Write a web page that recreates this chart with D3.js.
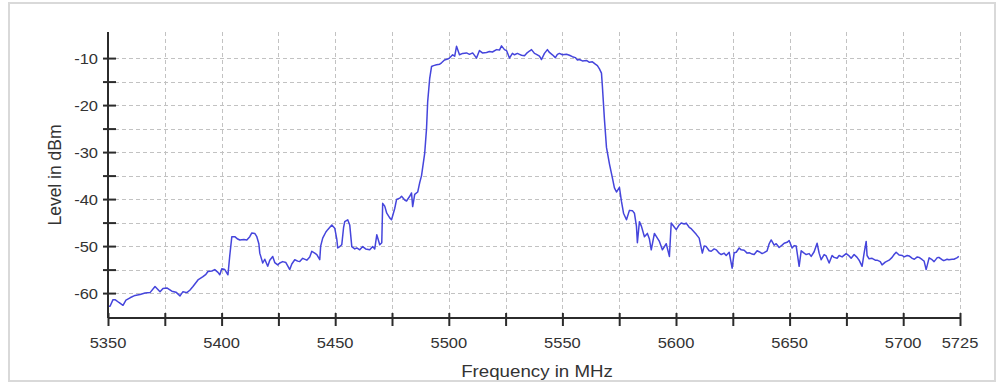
<!DOCTYPE html>
<html>
<head>
<meta charset="utf-8">
<script src="https://cdn.jsdelivr.net/npm/d3@7"></script>
<style>
  html, body { margin: 0; padding: 0; background: #fff; }
  svg { display: block; }
</style>
</head>
<body>
<svg id="chart" width="997" height="383"></svg>
<script>
// Measured spectrum: frequency (MHz) and level (dBm)
const freqMHz = [
  5350.0,5350.9,5352.2,5353.1,5354.8,5356.6,5357.9,5359.7,5361.9,5364.1,
  5366.3,5368.5,5370.7,5372.9,5374.2,5375.9,5378.1,5379.9,5381.7,5383.0,
  5384.7,5386.0,5387.4,5389.6,5391.8,5393.1,5394.0,5395.7,5397.0,5398.4,
  5399.2,5400.1,5401.4,5402.8,5403.6,5404.5,5405.8,5407.1,5408.0,5409.8,
  5411.1,5412.4,5413.3,5414.6,5415.5,5416.4,5416.8,5418.1,5419.0,5420.3,
  5421.2,5422.5,5423.4,5424.7,5425.6,5426.9,5428.3,5430.0,5430.9,5432.2,
  5433.5,5434.4,5435.7,5437.5,5438.8,5439.7,5441.0,5441.9,5443.2,5443.6,
  5444.5,5445.9,5446.7,5448.5,5449.8,5450.7,5451.1,5452.0,5452.9,5453.7,
  5454.2,5455.5,5456.4,5457.3,5458.6,5459.5,5460.8,5462.1,5463.4,5465.2,
  5466.5,5467.4,5468.3,5469.6,5470.5,5470.9,5471.8,5472.7,5474.0,5474.8,
  5476.2,5477.0,5478.4,5479.2,5480.6,5481.4,5482.8,5483.6,5484.1,5485.0,
  5486.3,5487.2,5488.0,5489.4,5490.2,5490.7,5491.6,5492.4,5493.3,5494.6,
  5496.0,5496.8,5498.1,5499.5,5500.3,5501.7,5502.6,5503.4,5504.7,5506.1,
  5507.8,5509.1,5510.5,5512.2,5513.5,5514.8,5516.6,5517.9,5519.2,5521.0,
  5522.3,5523.2,5524.5,5525.4,5526.7,5528.0,5528.9,5530.2,5531.1,5532.0,
  5533.3,5534.2,5535.5,5536.4,5537.7,5538.6,5539.9,5540.8,5542.1,5543.4,
  5544.3,5545.6,5546.9,5547.8,5548.7,5550.0,5551.8,5553.1,5554.4,5555.7,
  5556.6,5557.5,5558.8,5560.6,5561.9,5563.2,5564.5,5565.4,5566.3,5567.2,
  5567.6,5568.5,5569.4,5570.7,5572.0,5572.9,5573.8,5575.1,5576.0,5576.9,
  5578.2,5579.5,5580.9,5581.7,5582.6,5583.0,5583.9,5584.8,5586.1,5587.4,
  5588.3,5589.1,5590.5,5591.8,5592.7,5594.0,5595.7,5597.1,5597.9,5599.3,
  5600.1,5601.4,5602.3,5603.6,5604.5,5605.8,5606.7,5608.0,5608.9,5610.2,
  5611.6,5612.4,5613.3,5614.6,5615.5,5616.8,5617.7,5619.0,5619.9,5621.2,
  5622.1,5623.4,5624.7,5625.6,5626.5,5627.8,5628.7,5630.0,5631.3,5632.2,
  5633.5,5634.4,5635.7,5636.6,5637.9,5638.8,5640.1,5641.0,5641.9,5643.2,
  5644.1,5645.4,5646.7,5647.6,5648.9,5649.8,5651.1,5652.0,5652.9,5654.2,
  5655.1,5656.4,5657.3,5658.6,5659.5,5660.8,5662.1,5663.0,5663.9,5665.2,
  5666.1,5667.4,5668.7,5669.6,5670.9,5671.8,5673.1,5674.9,5676.2,5677.1,
  5678.4,5679.7,5680.6,5681.9,5682.8,5683.7,5684.1,5685.0,5686.3,5687.7,
  5688.5,5689.9,5690.7,5692.1,5693.8,5695.1,5696.0,5696.9,5698.2,5699.6,
  5700.4,5701.8,5702.6,5704.0,5704.9,5706.2,5707.0,5708.4,5709.2,5710.1,
  5711.4,5712.7,5713.6,5714.9,5715.7,5717.1,5717.9,5719.3,5720.1,5721.5,
  5722.3,5723.6,5724.5
];
const levelDbm = [
  -62.8,-62.8,-61.4,-61.4,-62.0,-62.6,-61.5,-61.0,-60.5,-60.3,
  -60.0,-59.9,-58.6,-59.7,-59.0,-58.9,-59.6,-59.8,-60.6,-59.7,
  -59.9,-59.4,-58.6,-57.2,-56.5,-56.0,-55.4,-55.3,-55.0,-55.6,
  -56.1,-54.8,-55.0,-56.1,-52.0,-48.0,-48.0,-48.5,-48.7,-48.6,
  -48.7,-48.0,-47.2,-47.3,-48.0,-49.5,-51.5,-53.6,-52.8,-54.3,
  -53.0,-52.2,-53.5,-54.0,-53.6,-53.3,-53.5,-55.0,-53.8,-52.9,
  -53.2,-53.3,-52.6,-53.0,-52.3,-51.1,-51.5,-51.8,-52.9,-50.0,
  -48.3,-47.0,-46.5,-45.5,-46.2,-48.5,-50.4,-50.1,-49.7,-46.0,
  -44.8,-44.4,-45.5,-50.1,-50.6,-50.4,-50.8,-50.1,-50.6,-50.8,
  -50.1,-50.6,-47.6,-49.7,-49.3,-40.9,-41.5,-43.0,-44.0,-44.4,
  -42.0,-40.1,-39.8,-39.4,-40.2,-40.4,-39.4,-38.7,-41.6,-39.0,
  -38.5,-36.5,-35.0,-30.2,-25.0,-19.3,-14.3,-11.8,-11.6,-11.4,
  -11.3,-11.0,-10.4,-10.2,-10.0,-9.3,-9.6,-7.5,-9.3,-9.0,
  -8.9,-9.2,-8.9,-10.0,-8.4,-8.9,-8.8,-8.6,-8.7,-8.2,
  -8.3,-7.4,-8.2,-8.4,-10.0,-9.0,-9.3,-9.0,-9.2,-9.4,
  -9.5,-9.0,-8.5,-8.2,-9.0,-9.2,-9.6,-10.3,-9.0,-8.2,
  -8.8,-9.3,-9.9,-9.2,-9.0,-9.3,-9.2,-9.4,-9.7,-9.9,
  -10.4,-10.3,-10.6,-10.5,-10.9,-10.8,-11.3,-11.6,-12.3,-13.2,
  -16.0,-23.0,-29.0,-32.5,-35.5,-37.6,-38.5,-37.5,-40.5,-43.0,
  -44.4,-42.4,-42.5,-43.0,-45.8,-49.3,-44.8,-45.8,-48.0,-47.3,
  -48.5,-50.8,-47.3,-48.3,-49.0,-50.8,-49.5,-52.2,-45.1,-46.0,
  -46.5,-45.5,-45.1,-45.3,-45.1,-46.0,-46.3,-47.0,-47.5,-48.3,
  -51.5,-50.0,-50.1,-51.0,-51.1,-50.6,-50.8,-51.5,-51.8,-51.5,
  -52.0,-51.3,-54.7,-51.4,-51.3,-50.4,-50.8,-50.9,-51.5,-51.4,
  -51.7,-51.8,-51.0,-51.2,-51.6,-51.4,-51.0,-49.5,-48.7,-49.8,
  -49.5,-50.3,-49.8,-49.4,-49.2,-48.8,-50.4,-49.9,-50.0,-54.3,
  -51.0,-51.5,-51.8,-51.6,-52.2,-51.2,-49.4,-51.5,-52.9,-51.8,
  -52.1,-53.6,-52.0,-52.4,-52.6,-52.0,-52.3,-51.6,-52.1,-52.6,
  -51.8,-52.4,-53.0,-54.3,-51.5,-49.0,-52.0,-52.7,-52.6,-53.0,
  -53.0,-53.3,-54.0,-53.4,-53.0,-52.4,-51.8,-51.3,-51.9,-52.0,
  -52.3,-52.0,-52.1,-52.6,-52.8,-52.3,-52.4,-52.9,-53.2,-55.0,
  -52.5,-52.9,-53.3,-52.5,-52.4,-52.9,-53.1,-52.8,-52.9,-52.8,
  -52.8,-52.5,-52.2
];

// Limit line
const limitFreqMHz = [5350, 5470];
const limitLevelDbm = [-27, -27];

// Axis ticks and labels
const xTickValues = [5350, 5375, 5400, 5425, 5450, 5475, 5500, 5525, 5550, 5575, 5600, 5625, 5650, 5675, 5700, 5725];
const xTickLabels = [5350, 5400, 5450, 5500, 5550, 5600, 5650, 5700, 5725];
const yTickValues = [-60, -55, -50, -45, -40, -35, -30, -25, -20, -15, -10];
const yTickLabels = [-60, -50, -40, -30, -20, -10];

const svg = d3.select("#chart");
const plot = { left: 108, right: 960, top: 32, bottom: 318 };

const x = d3.scaleLinear().domain([5350, 5725]).range([plot.left, plot.right]);
const y = d3.scaleLinear().domain([-65.3, -4.45]).range([plot.bottom, plot.top]);

// Soft edge for the traces
const defs = svg.append("defs");
defs.append("filter").attr("id", "soft")
  .attr("x", "-2%").attr("y", "-10%").attr("width", "104%").attr("height", "120%")
  .append("feGaussianBlur").attr("stdDeviation", 0.45);

// Outer frame
svg.append("rect")
  .attr("x", 9).attr("y", 3)
  .attr("width", 986).attr("height", 378)
  .attr("fill", "#fff")
  .attr("stroke", "#d9d9d9")
  .attr("stroke-width", 2);

// Dashed grid
const grid = svg.append("g")
  .attr("stroke", "#c2c2c2")
  .attr("stroke-width", 1)
  .attr("stroke-dasharray", "4,3");

grid.selectAll("line.v")
  .data(xTickValues.filter(d => d > 5350))
  .join("line")
  .attr("class", "v")
  .attr("x1", d => Math.round(x(d)) + 0.5).attr("x2", d => Math.round(x(d)) + 0.5)
  .attr("y1", plot.top).attr("y2", plot.bottom);

grid.selectAll("line.h")
  .data(yTickValues)
  .join("line")
  .attr("class", "h")
  .attr("x1", plot.left).attr("x2", plot.right)
  .attr("y1", d => Math.round(y(d)) + 0.5).attr("y2", d => Math.round(y(d)) + 0.5);

// Spectrum trace
const line = d3.line()
  .x((d, i) => x(freqMHz[i]))
  .y(d => y(d));

svg.append("path")
  .datum(levelDbm)
  .attr("fill", "none")
  .attr("stroke", "#4545dc")
  .attr("stroke-width", 1.5)
  .attr("stroke-linejoin", "round")
  .attr("filter", "url(#soft)")
  .attr("d", line);

// Limit line
svg.append("path")
  .datum(limitLevelDbm)
  .attr("fill", "none")
  .attr("stroke", "#c95656")
  .attr("stroke-width", 3)
  .attr("filter", "url(#soft)")
  .attr("d", d3.line().x((d, i) => x(limitFreqMHz[i])).y(d => y(d)));

// Axes
const xAxis = d3.axisBottom(x).tickValues(xTickValues).tickFormat("").tickSizeOuter(0);
const yAxis = d3.axisLeft(y).tickValues(yTickValues).tickFormat("").tickSizeOuter(0);

const gx = svg.append("g").attr("transform", `translate(0,${plot.bottom})`).call(xAxis);
const gy = svg.append("g").attr("transform", `translate(${plot.left},0)`).call(yAxis);

gx.select(".domain").remove();
gy.select(".domain").remove();
gx.selectAll(".tick line").attr("y1", -5).attr("y2", 8).attr("stroke", "#2b2b2b").attr("stroke-width", 2);
gy.selectAll(".tick line").attr("x1", -5).attr("x2", 8).attr("stroke", "#2b2b2b").attr("stroke-width", 2);

svg.append("line")
  .attr("x1", plot.left).attr("x2", plot.right)
  .attr("y1", plot.bottom).attr("y2", plot.bottom)
  .attr("stroke", "#2b2b2b").attr("stroke-width", 2);
svg.append("line")
  .attr("x1", plot.left).attr("x2", plot.left)
  .attr("y1", plot.top).attr("y2", plot.bottom)
  .attr("stroke", "#2b2b2b").attr("stroke-width", 2);

// Tick labels
const labelFont = "'Liberation Sans', Arial, sans-serif";
svg.append("g").selectAll("text")
  .data(xTickLabels)
  .join("text")
  .attr("transform", d => `translate(${x(d)},348) scale(1.1,1)`)
  .attr("text-anchor", "middle")
  .attr("font-family", labelFont)
  .attr("font-size", 15)
  .attr("fill", "#333")
  .text(d => d);

svg.append("g").selectAll("text")
  .data(yTickLabels)
  .join("text")
  .attr("transform", d => `translate(98,${y(d) + 5.5}) scale(1.1,1)`)
  .attr("text-anchor", "end")
  .attr("font-family", labelFont)
  .attr("font-size", 15)
  .attr("fill", "#333")
  .text(d => d);

// Axis titles
svg.append("text")
  .attr("transform", "translate(537,377) scale(1.1,1)")
  .attr("text-anchor", "middle")
  .attr("font-family", labelFont)
  .attr("font-size", 17)
  .attr("fill", "#333")
  .text("Frequency in MHz");

svg.append("text")
  .attr("transform", "translate(61,175) rotate(-90)")
  .attr("text-anchor", "middle")
  .attr("font-family", labelFont)
  .attr("font-size", 17.5)
  .attr("fill", "#333")
  .text("Level in dBm");
</script>
</body>
</html>
